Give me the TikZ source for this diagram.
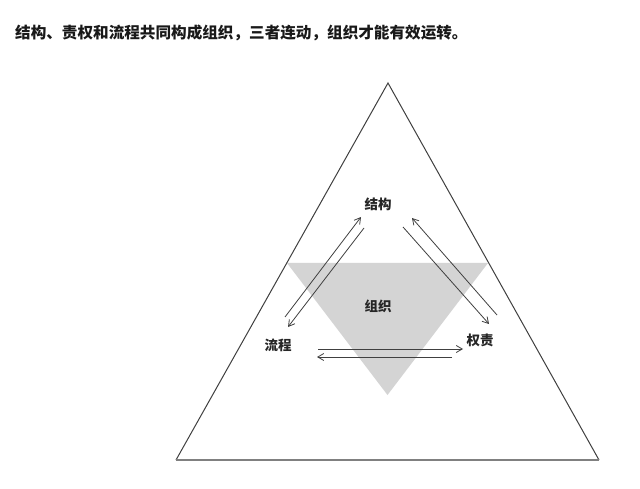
\documentclass[tikz,border=0pt]{standalone}
\usepackage{fontspec}
\newfontfamily\cjk{Noto Sans CJK SC}
\usetikzlibrary{arrows.meta}
\begin{document}
\begin{tikzpicture}[x=1pt,y=-1pt,
  outline/.style={draw=black!75,line width=1pt,line join=miter},
  grayfill/.style={fill=black!17,draw=none},
  arr/.style={draw=black!75,line width=0.8pt,-{Straight Barb[length=6pt,width=7pt,line width=0.8pt]}},
  lbl/.style={font=\cjk\bfseries\fontsize{13.5}{14}\selectfont,text=black!85,inner sep=0pt}]
\useasboundingbox (0,0) rectangle (640,489);
\fill[white] (0,0) rectangle (640,489);
\node[anchor=west,inner sep=0pt,font=\cjk\bfseries\fontsize{15.6}{16}\selectfont,text=black!90] (title) at (15,33) {结构、责权和流程共同构成组织，三者连动，组织才能有效运转。};
% gray inner triangle
\coordinate (gl) at (287,263);
\coordinate (gr) at (488,263);
\coordinate (gb) at (387.5,395);
\path[grayfill] (gl) -- (gr) -- (gb) -- cycle;
% outer triangle
\coordinate (oa) at (388,83);
\coordinate (ol) at (176,460);
\coordinate (or) at (599,460);
\draw[outline] (ol) -- (oa) -- (or);
\draw[draw=black!50,line width=1.6pt] (ol) -- (or);
% labels
\node[lbl] (jg) at (378,204) {结构};
\node[lbl] (zz) at (378,306) {组织};
\node[lbl] (lc) at (278,345) {流程};
\node[lbl] (qz) at (480,340) {权责};
% arrow endpoints
\coordinate (a1s) at (285,317); \coordinate (a1e) at (361,217);
\coordinate (a2s) at (364,228); \coordinate (a2e) at (288,327);
\coordinate (a3s) at (497,315); \coordinate (a3e) at (412,218);
\coordinate (a4s) at (403,227); \coordinate (a4e) at (489,324);
\coordinate (a5s) at (318,349); \coordinate (a5e) at (463,349);
\coordinate (a6s) at (452,357); \coordinate (a6e) at (317,357);
\draw[arr] (a1s) -- (a1e);
\draw[arr] (a2s) -- (a2e);
\draw[arr] (a3s) -- (a3e);
\draw[arr] (a4s) -- (a4e);
\draw[arr] (a5s) -- (a5e);
\draw[arr] (a6s) -- (a6e);
\end{tikzpicture}
\end{document}
